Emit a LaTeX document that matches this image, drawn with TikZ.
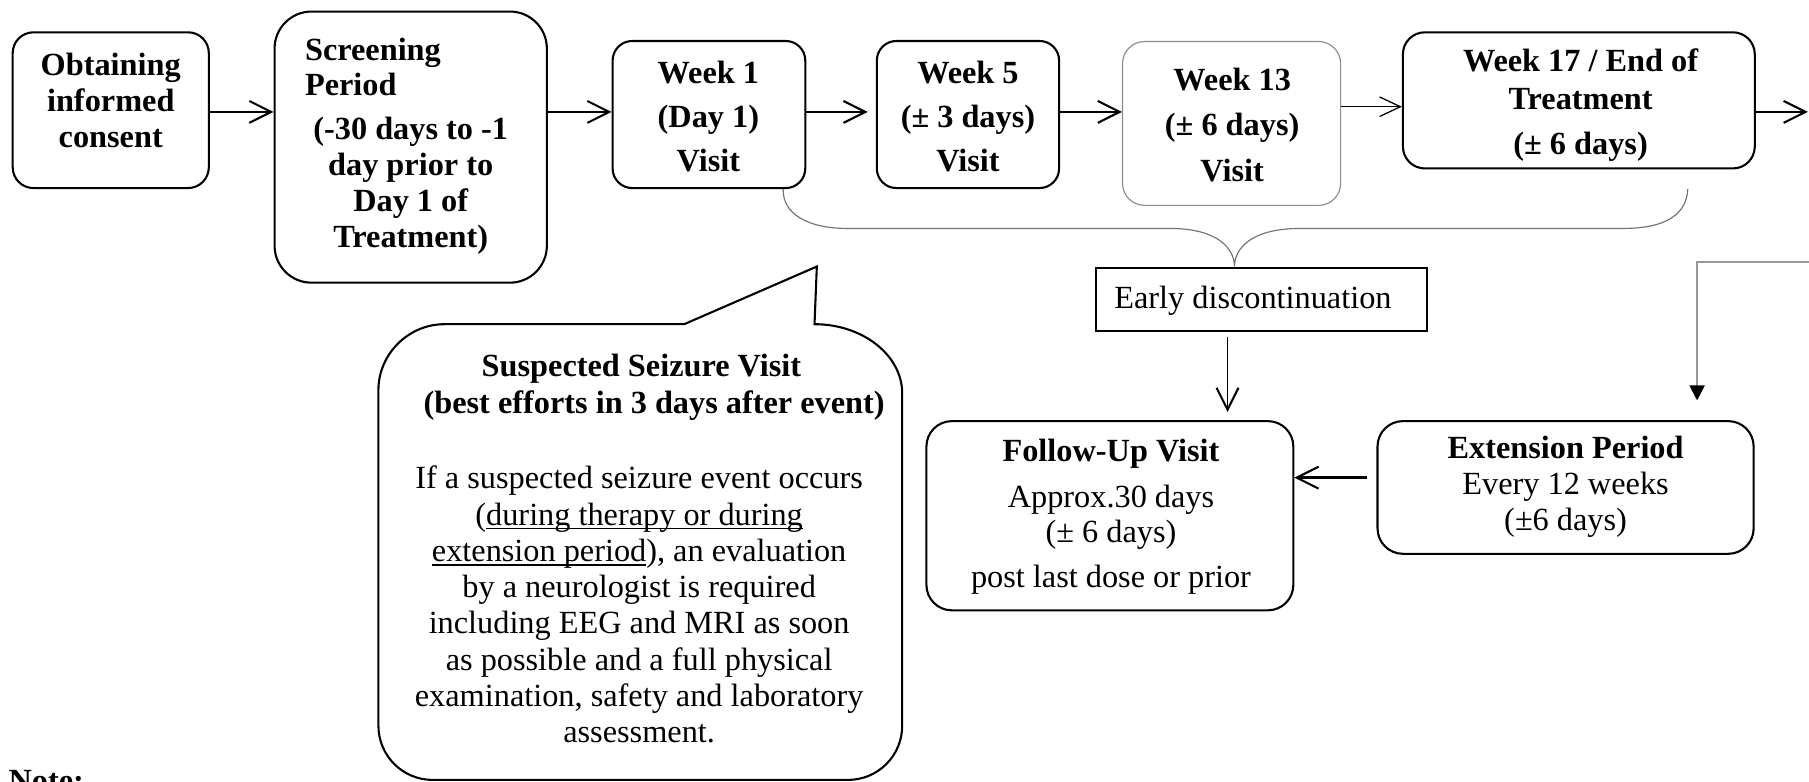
\documentclass[tikz,border=0pt]{standalone}
\usepackage{fontspec}
\setmainfont{Liberation Serif}
\usetikzlibrary{arrows.meta}
\newsavebox{\ulbox}
\newcommand{\myul}[1]{\sbox{\ulbox}{#1}\rlap{\rule[-1.8pt]{\wd\ulbox}{0.7pt}}\usebox{\ulbox}}
\begin{document}
\begin{tikzpicture}[x=0.5pt,y=-0.5pt,
  box/.style={draw, line width=0.9pt, rounded corners=9pt, inner sep=0pt},
  graybox/.style={draw=black!45, line width=0.5pt, rounded corners=9.5pt, inner sep=0pt},
  sqbox/.style={draw, line width=0.9pt, inner sep=0pt},
  bt/.style={inner sep=0pt, align=center, font=\bfseries\fontsize{14}{15.75}\selectfont},
  rt/.style={inner sep=0pt, align=center, font=\fontsize{14}{15.7}\selectfont},
  arr/.style={line width=0.9pt, -{Straight Barb[length=9.5pt,width=9.5pt,line width=0.9pt]}},
  arrthin/.style={line width=0.55pt, -{Straight Barb[length=9pt,width=8.5pt,line width=0.55pt]}},
  grayarr/.style={draw=black!40, line width=0.8pt, -{Triangle[length=6.5pt,width=6.5pt,color=black]}},
  brc/.style={draw=black!55, line width=0.5pt},
  callout/.style={draw, line width=0.9pt, line join=miter}
]
\useasboundingbox (0,0) rectangle (1568,677);
\fill[white] (0,0) rectangle (1568,677);

% helper coordinates
\coordinate (r97) at (0,97);
\coordinate (r92) at (0,92.5);
\coordinate (r414) at (0,414);
\coordinate (vx) at (1064,0);
\coordinate (gx) at (1471,0);
\coordinate (tipx) at (1070,0);
\coordinate (redge) at (1567,97);
\coordinate (gedge) at (1568,227);

% boxes
\node[box, minimum width=85pt, minimum height=67.5pt] (obt) at (96,95.5) {};
\node[box, rounded corners=16pt, minimum width=118pt, minimum height=117.5pt] (scr) at (356,127.5) {};
\node[box, rounded corners=8.5pt, minimum width=83.5pt, minimum height=63.75pt] (w1) at (614.5,99.25) {};
\node[box, rounded corners=8.5pt, minimum width=79pt, minimum height=63.75pt] (w5) at (839,99.25) {};
\node[graybox, minimum width=94.5pt, minimum height=71pt] (w13) at (1067.5,107) {};
\node[box, rounded corners=9.5pt, minimum width=152.5pt, minimum height=59pt] (w17) at (1368.5,87) {};
\node[sqbox, minimum width=143.5pt, minimum height=27.5pt] (ed) at (1093.5,259.5) {};
\node[box, rounded corners=11pt, minimum width=159pt, minimum height=82pt] (fu) at (962,447) {};
\node[box, rounded corners=11pt, minimum width=163pt, minimum height=57.5pt] (ext) at (1357,422.5) {};

% texts
\node[bt] (tobt) at (96,87) {Obtaining\\informed\\consent};
\node[bt, align=left, anchor=west, font=\bfseries\fontsize{14}{15}\selectfont] (tscr1) at (264,58) {Screening\\Period};
\node[bt, font=\bfseries\fontsize{14}{15.5}\selectfont] (tscr2) at (356,161) {(-30 days to -1\\day prior to\\Day 1 of\\Treatment)};
\node[bt, font=\bfseries\fontsize{14}{19}\selectfont] (tw1) at (614,101) {Week 1\\(Day 1)\\Visit};
\node[bt, font=\bfseries\fontsize{14}{19}\selectfont] (tw5) at (839,101) {Week 5\\(± 3 days)\\Visit};
\node[bt, font=\bfseries\fontsize{14}{19.75}\selectfont] (tw13) at (1068,108) {Week 13\\(± 6 days)\\Visit};
\node[bt, font=\bfseries\fontsize{14}{16.5}\selectfont] (tw17) at (1370,91) {Week 17 / End of\\Treatment\\[3pt](± 6 days)};
\node[rt] (ted) at (1086,261) {Early discontinuation};
\node[rt, font=\fontsize{14}{15}\selectfont] (tfu) at (963,448) {\textbf{Follow-Up Visit}\\[5pt]Approx.30 days\\(± 6 days)\\[4.5pt]post last dose or prior};
\node[rt, font=\fontsize{14}{15.5}\selectfont] (text) at (1357,422) {\textbf{Extension Period}\\Every 12 weeks\\(±6 days)};

% callout
\draw[callout] (593,281) -- (708,231) -- (706,281)
  .. controls (748,281) and (782,308) .. (782,341) -- (782,629)
  .. controls (782,655) and (761,676) .. (735,676) -- (375,676)
  .. controls (349,676) and (328,655) .. (328,629) -- (328,338)
  .. controls (328,307) and (354,281) .. (385,281) -- cycle;
\node[bt, font=\bfseries\fontsize{14}{16}\selectfont] (tsq1) at (556,336) {Suspected Seizure Visit\\\hspace*{11pt}(best efforts in 3 days after event)};
\node[rt] (tsq2) at (554,524) {If a suspected seizure event occurs\\(\myul{during therapy or during}\\\myul{extension period}), an evaluation\\by a neurologist is required\\including EEG and MRI as soon\\as possible and a full physical\\examination, safety and laboratory\\assessment.};

% Note
\node[bt, anchor=base west] (note) at (7,686) {Note:};

% connectors
\draw[arr] (obt.east |- r97) -- (scr.west |- r97);
\draw[arr] (scr.east |- r97) -- (w1.west |- r97);
\draw[arr, shorten >=3.5pt] (w1.east |- r97) -- (w5.west |- r97);
\draw[arr] (w5.east |- r97) -- (w13.west |- r97);
\draw[arrthin] (w13.east |- r92) -- (w17.west |- r92);
\draw[arr] (w17.east |- r97) -- (redge);
\draw[arr, line width=0.7pt, shorten <=2pt, shorten >=3.5pt] (ed.south -| vx) -- (fu.north -| vx);
\draw[arr, line width=1pt, shorten <=4pt] (ext.west |- r414) -- (fu.east |- r414);
\draw[grayarr, shorten >=8.5pt] (gedge) -| (ext.north -| gx);

% brace
\draw[brc] ([xshift=-10pt]w1.south east) .. controls (678,185) and (700,198) .. (734,198)
  -- (1014,198) .. controls (1055,198) and (1070,215) .. (ed.north -| tipx)
  .. controls (1070,215) and (1085,198) .. (1127,198)
  -- (1407,198) .. controls (1445,198) and (1462,185) .. ([xshift=-29.5pt,yshift=-8.5pt]w17.south east);
\end{tikzpicture}
\end{document}
